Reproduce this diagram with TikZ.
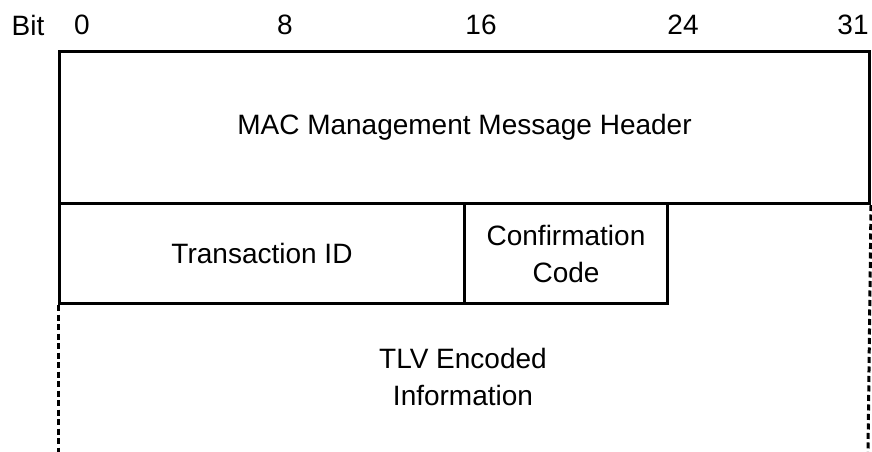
\documentclass[tikz,border=0pt]{standalone}
\usepackage{fontspec}
\setmainfont{Liberation Sans}
\begin{document}
\begin{tikzpicture}[x=1pt,y=-1pt,
  field/.style={draw,line width=3pt,inner sep=0pt,anchor=north west,align=center,font=\fontsize{28}{37}\selectfont},
  bitlbl/.style={font=\fontsize{28}{37}\selectfont,inner sep=0pt},
  ext/.style={line width=3pt,dash pattern=on 6pt off 3.5pt}]
\useasboundingbox (0,0) rectangle (872,452);
\node[bitlbl] (bit) at (28,25) {Bit};
\node[bitlbl] (b0) at (82,25) {0};
\node[bitlbl] (b8) at (285,25) {8};
\node[bitlbl] (b16) at (481,25) {16};
\node[bitlbl] (b24) at (683,25) {24};
\node[bitlbl] (b31) at (853,25) {31};
\node[field,minimum width=810pt,minimum height=152pt] (hdr) at (58,50) {MAC Management Message Header};
\node[field,minimum width=405pt,minimum height=100pt] (tid) at (58,202) {Transaction ID};
\node[field,minimum width=203pt,minimum height=100pt] (cc) at (463,202) {Confirmation\\Code};
\coordinate (bl) at (58,452);
\coordinate (br) at (868,452);
\draw[ext] (tid.south west) -- (bl);
\draw[ext] (hdr.south east) -- (br);
\node[align=center,font=\fontsize{28}{37}\selectfont,inner sep=0pt] (tlv) at (463,377) {TLV Encoded\\Information};
\end{tikzpicture}
\end{document}
